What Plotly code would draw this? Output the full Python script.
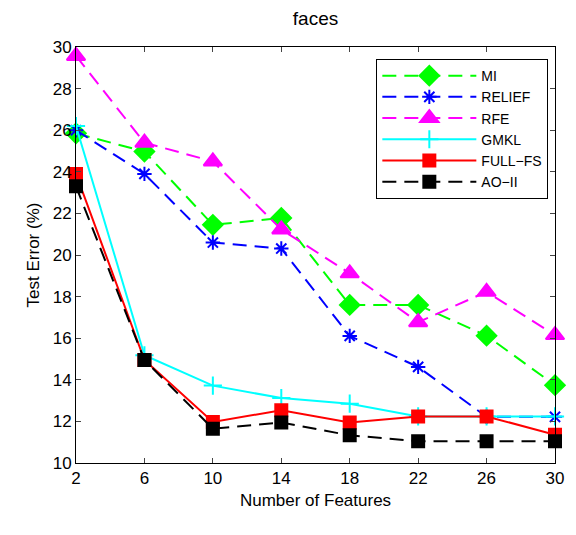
import plotly.graph_objects as go

features = [2, 6, 10, 14, 18, 22, 26, 30]
mi = [25.85, 24.97, 21.45, 21.78, 17.6, 17.6, 16.12, 13.74]
relief = [26.0, 23.9, 20.6, 20.31, 16.11, 14.62, 12.22, 12.22]
rfe = [29.57, 25.4, 24.5, 21.23, 19.12, 16.77, 18.23, 16.15]
gmkl = [26.2, 15.18, 13.72, 13.12, 12.85, 12.24, 12.24, 12.24]
full_fs = [23.9, 14.95, 11.97, 12.54, 11.95, 12.24, 12.24, 11.36]
ao_ii = [23.3, 14.95, 11.65, 11.95, 11.33, 11.05, 11.05, 11.05]

y_ticks = [10, 12, 14, 16, 18, 20, 22, 24, 26, 28, 30]

series = [
    ("MI", mi, "#00ff00", "diamond", "14px,8px", 15),
    ("RELIEF", relief, "#0000ff", "asterisk-open", "14px,8px", 12),
    ("RFE", rfe, "#ff00ff", "triangle-up", "14px,8px", 16),
    ("GMKL", gmkl, "#00ffff", "cross-thin-open", "solid", 13),
    ("FULL\u2212FS", full_fs, "#ff0000", "square", "solid", 12),
    ("AO\u2212II", ao_ii, "#000000", "square", "14px,8px", 12),
]

fig = go.Figure()
for name, vals, color, sym, dash, size in series:
    fig.add_trace(go.Scatter(
        x=features, y=vals, name=name, mode="lines+markers",
        cliponaxis=False,
        line=dict(color=color, width=2, dash=dash),
        marker=dict(symbol=sym, size=size, color=color,
                    line=dict(color=color, width=2)),
    ))

font = "Liberation Sans, Arial, Helvetica, sans-serif"
fig.update_layout(
    width=576, height=535,
    margin=dict(l=76, r=12, t=47, b=72),
    paper_bgcolor="white", plot_bgcolor="white",
    font=dict(family=font, size=17, color="black"),
    title=dict(text="faces", x=0.5, xref="paper", xanchor="center",
               y=1 - 18 / 535, yanchor="middle", font=dict(size=19)),
    xaxis=dict(range=[2, 30], tickvals=features, ticks="inside", ticklen=5,
               showline=True, linecolor="black", linewidth=1, mirror="ticks",
               showgrid=False, zeroline=False,
               title=dict(text="Number of Features", standoff=6, font=dict(size=17))),
    yaxis=dict(range=[10, 30], tickvals=y_ticks, ticks="inside", ticklen=5,
               showline=True, linecolor="black", linewidth=1, mirror="ticks",
               showgrid=False, zeroline=False,
               title=dict(text="Test Error (%)", standoff=8, font=dict(size=17))),
    legend=dict(x=0.627, y=0.971, xanchor="left", yanchor="top",
                bordercolor="black", borderwidth=1, bgcolor="white",
                font=dict(size=14), itemwidth=94, tracegroupgap=0),
    showlegend=True,
)

fig.write_html("out.html")
